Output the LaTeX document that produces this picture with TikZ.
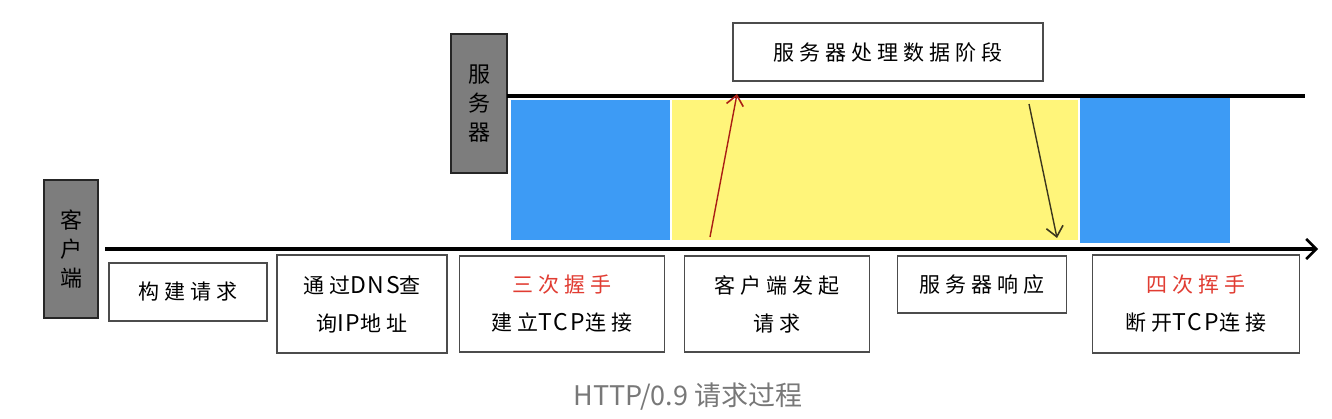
\documentclass[tikz,border=0pt]{standalone}
\usepackage{fontspec}
\usetikzlibrary{arrows.meta}
\newfontfamily\hw[LetterSpace=24]{Noto Sans CJK SC}
\newfontfamily\hwl[LetterSpace=8]{Noto Sans CJK SC}
\newfontfamily\capfont{Noto Sans CJK SC}
\newcommand{\lat}[1]{{\hwl\fontsize{23}{38}\selectfont #1}}
\definecolor{boxgray}{RGB}{125,125,125}
\definecolor{procblue}{RGB}{61,155,245}
\definecolor{procyellow}{RGB}{255,245,122}
\definecolor{hsred}{RGB}{225,60,50}
\definecolor{reqred}{RGB}{170,30,20}
\definecolor{resdark}{RGB}{60,55,30}
\definecolor{capgray}{RGB}{120,120,120}
\begin{document}
\begin{tikzpicture}[x=1pt,y=-1pt,
  lbl/.style={draw=black!70, line width=1.3pt, fill=white, align=center,
    font=\hw\fontsize{21}{38}\selectfont, inner sep=0pt},
  actor/.style={draw=black!85, fill=boxgray, line width=1.3pt, align=center,
    font=\hw\fontsize{22}{29}\selectfont, inner sep=0pt},
  axisline/.style={line width=3.6pt, black},
  barb/.style={-{Straight Barb[length=10pt,width=17pt,line width=1.6pt]}},
  hs/.style={text=hsred}]
\useasboundingbox (0,0) rectangle (1332,418);

% phase blocks
\fill[procblue] (511,100) rectangle (670,240);
\fill[procyellow] (672,100) rectangle (1078,240);
\fill[procblue] (1080,97) rectangle (1230,243);

% actors
\node[actor, minimum width=54pt, minimum height=138pt] (client) at (71,249) {客\\户\\端};
\node[actor, minimum width=56pt, minimum height=139pt] (server) at (479,103.5) {服\\务\\器};

% time lines
\coordinate (cstart) at (105,249);
\coordinate (cend) at (1318,249);
\coordinate (sstart) at (507,96);
\coordinate (send) at (1305,96);
\draw[axisline, -{Straight Barb[length=10pt,width=20pt,line width=2.6pt]}] (cstart) -- (cend);
\draw[axisline] (sstart) -- (send);

% top label
\node[lbl, minimum width=310pt, minimum height=58pt] (proc) at (888,52) {服务器处理数据阶段};

% request / response arrows
\coordinate (reqA) at (710,237);
\coordinate (reqB) at (737,94);
\coordinate (resA) at (1029,104);
\coordinate (resB) at (1057,238);
\draw[reqred, line width=1.4pt, barb] (reqA) -- (reqB);
\draw[resdark, line width=1.4pt, barb] (resA) -- (resB);

% step boxes
\node[lbl, minimum width=158pt, minimum height=58pt] (build) at (188,292) {构建请求};
\node[lbl, minimum width=170pt, minimum height=98pt] (dns) at (362,304) {通过\lat{DNS}查\\询\lat{IP}地址};
\node[lbl, minimum width=205pt, minimum height=96pt] (shake) at (562,304) {{\color{hsred}三次握手}\\建立\lat{TCP}连接};
\node[lbl, minimum width=185pt, minimum height=96pt] (req) at (777,304) {客户端发起\\请求};
\node[lbl, minimum width=169pt, minimum height=57pt] (resp) at (982,284.5) {服务器响应};
\node[lbl, minimum width=207pt, minimum height=98pt] (wave) at (1196,304) {{\color{hsred}四次挥手}\\断开\lat{TCP}连接};

% caption
\node[font=\capfont\fontsize{27}{32}\selectfont, text=capgray] (cap) at (688,397) {HTTP/0.9 请求过程};
\end{tikzpicture}
\end{document}
